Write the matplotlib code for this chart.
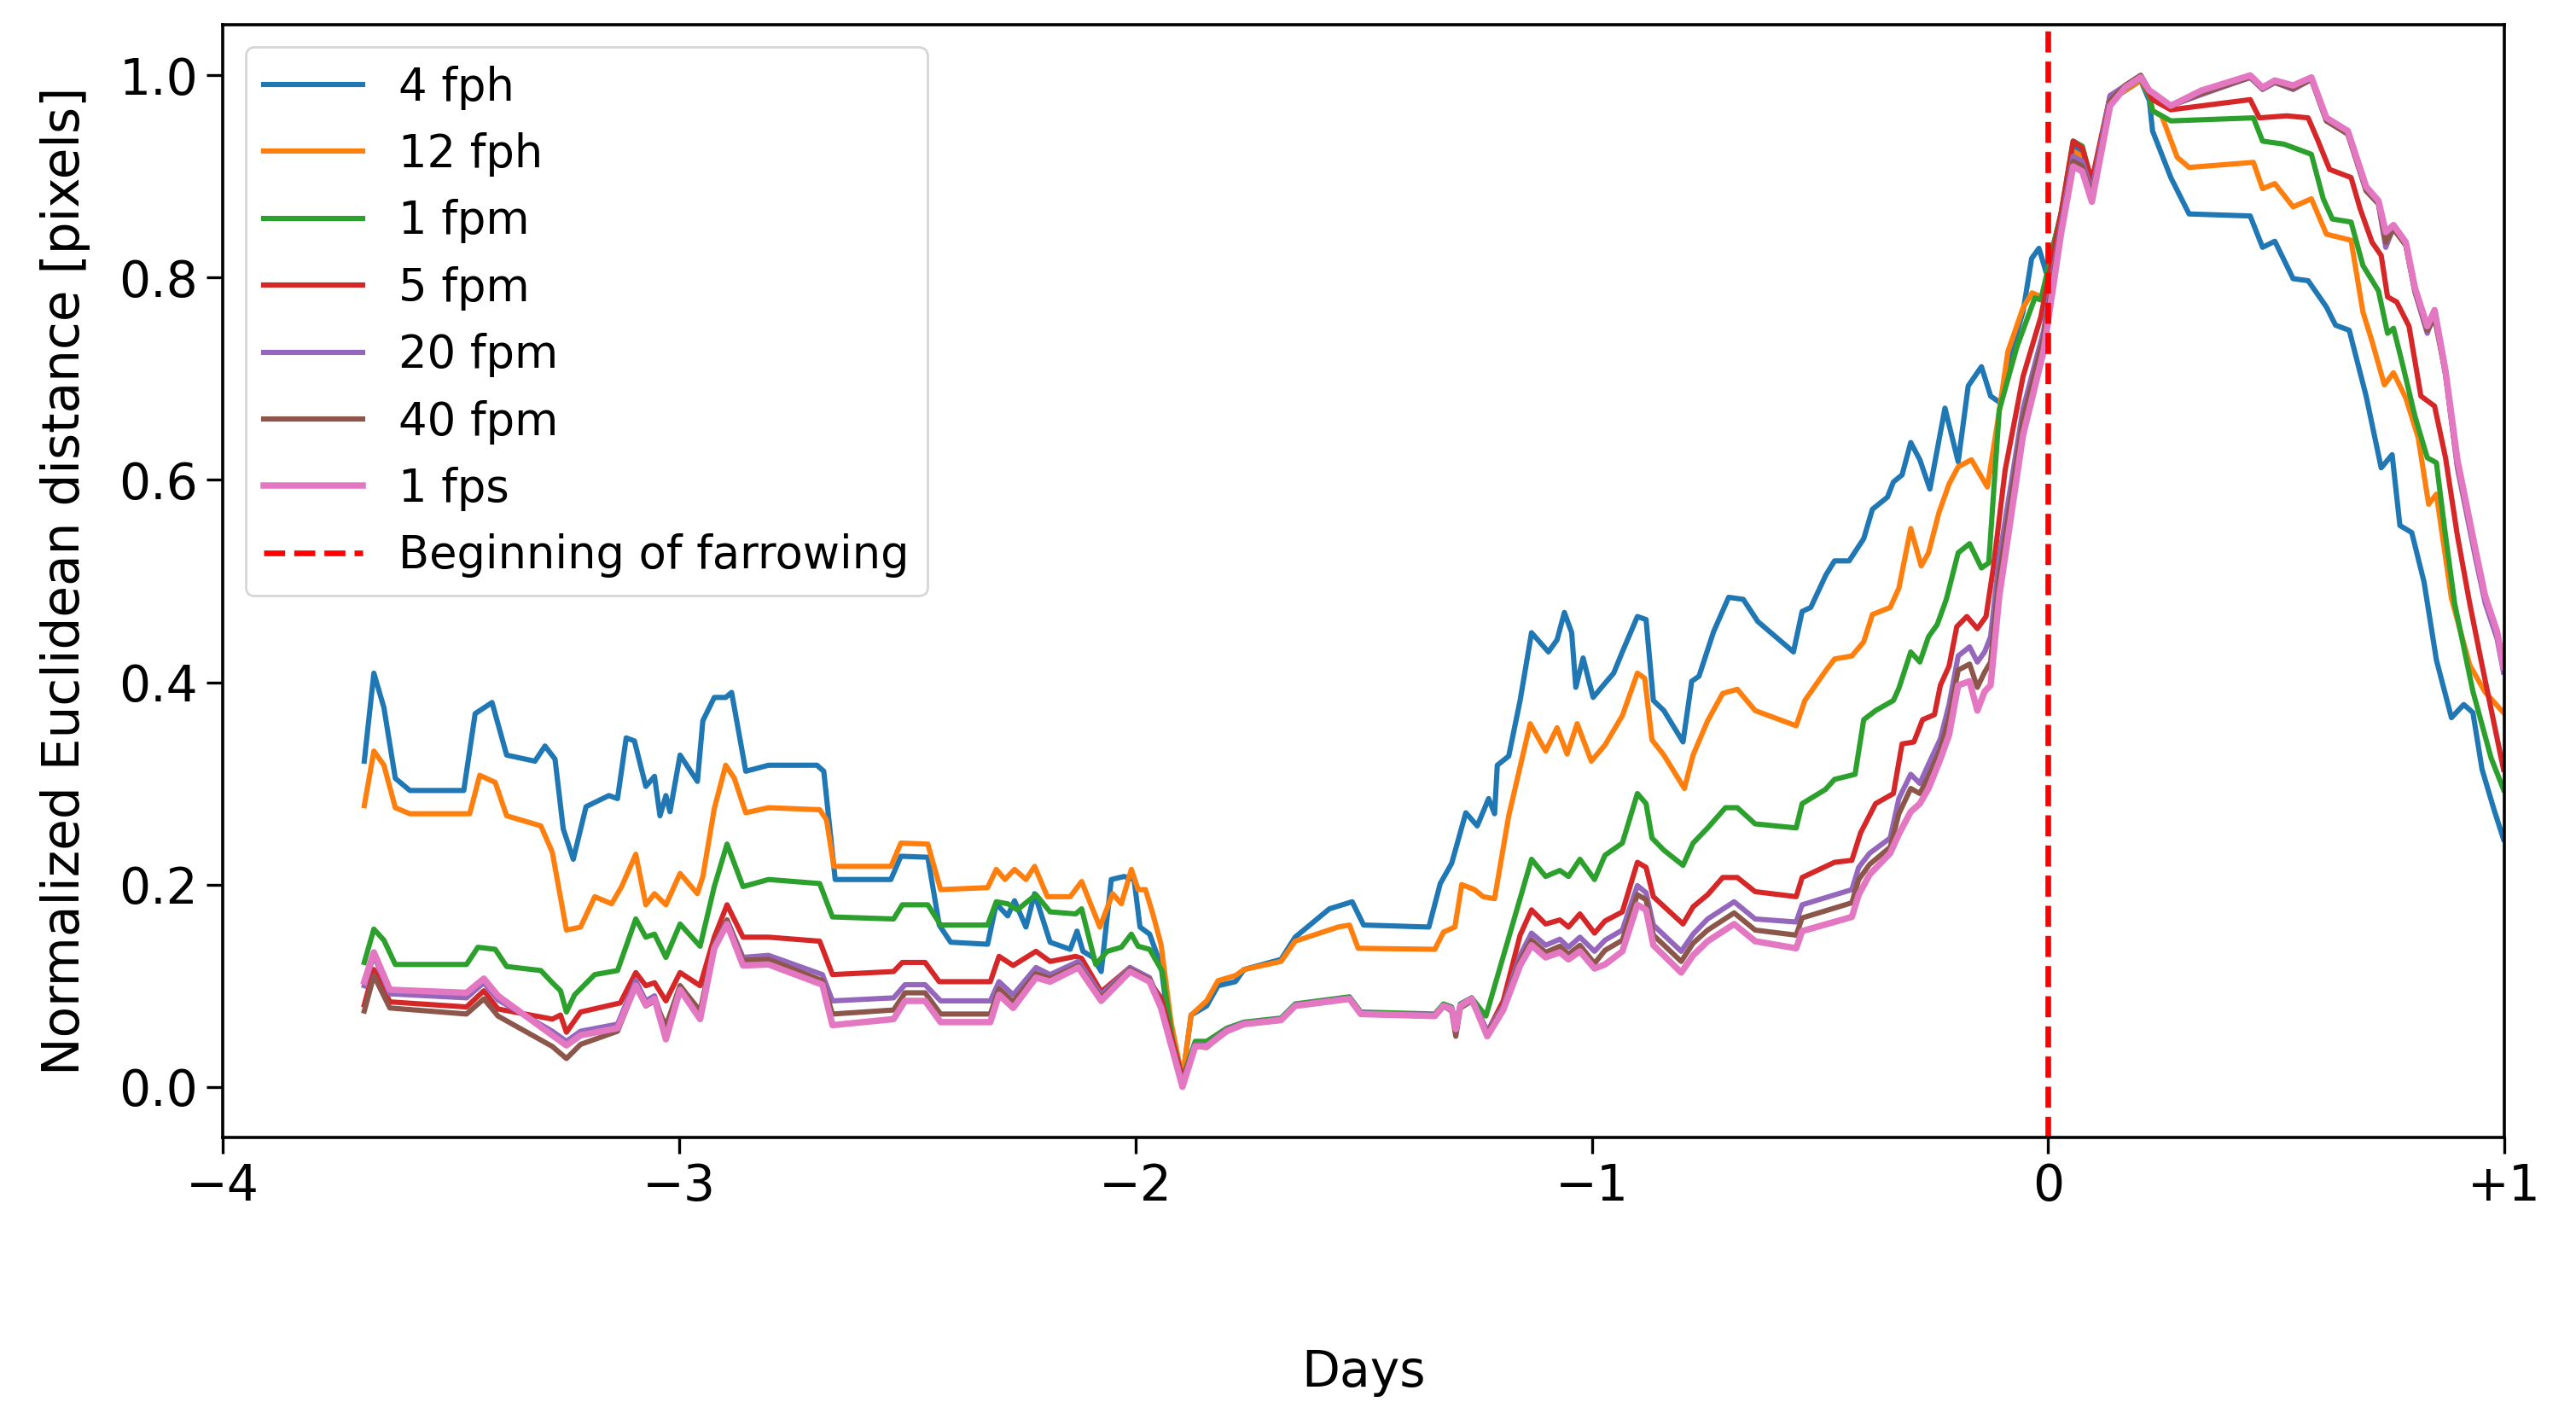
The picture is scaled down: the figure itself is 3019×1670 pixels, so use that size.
import matplotlib
matplotlib.use("Agg")
import matplotlib.pyplot as plt

# Values (days relative to farrowing, normalized distance)
labels = ["4 fph", "12 fph", "1 fpm", "5 fpm", "20 fpm", "40 fpm", "1 fps"]

fph4_x = [-3.69, -3.669, -3.647, -3.622, -3.59, -3.472, -3.447, -3.41, -3.378, -3.316, -3.294, -3.272,
          -3.254, -3.232, -3.204, -3.154, -3.135, -3.116, -3.098, -3.073, -3.054, -3.042, -3.029, -3.02,
          -2.998, -2.96, -2.948, -2.923, -2.898, -2.885, -2.854, -2.804, -2.698, -2.683, -2.658, -2.536,
          -2.514, -2.455, -2.43, -2.405, -2.324, -2.305, -2.28, -2.265, -2.24, -2.221, -2.187, -2.143,
          -2.128, -2.115, -2.093, -2.075, -2.053, -2.025, -2.003, -1.99, -1.969, -1.944, -1.925, -1.897,
          -1.878, -1.844, -1.819, -1.781, -1.762, -1.681, -1.65, -1.575, -1.525, -1.5, -1.357, -1.332,
          -1.307, -1.276, -1.251, -1.226, -1.213, -1.207, -1.182, -1.157, -1.132, -1.095, -1.076, -1.06,
          -1.044, -1.035, -1.019, -0.997, -0.971, -0.952, -0.933, -0.9, -0.881, -0.865, -0.842, -0.8,
          -0.781, -0.765, -0.733, -0.7, -0.668, -0.636, -0.558, -0.539, -0.52, -0.487, -0.468, -0.436,
          -0.404, -0.385, -0.352, -0.339, -0.32, -0.301, -0.281, -0.259, -0.226, -0.197, -0.175, -0.146,
          -0.126, -0.104, -0.081, -0.055, -0.036, -0.02, -0.004, 0.029, 0.055, 0.075, 0.096, 0.136,
          0.169, 0.203, 0.222, 0.229, 0.269, 0.309, 0.443, 0.47, 0.497, 0.537, 0.57, 0.61, 0.63, 0.66,
          0.697, 0.73, 0.754, 0.771, 0.797, 0.824, 0.851, 0.884, 0.911, 0.931, 0.951, 0.978, 0.998]
fph4_y = [0.322, 0.409, 0.375, 0.305, 0.293, 0.293, 0.369, 0.38, 0.328, 0.322, 0.337, 0.324,
          0.255, 0.225, 0.277, 0.288, 0.285, 0.345, 0.342, 0.297, 0.307, 0.268, 0.288, 0.272,
          0.328, 0.302, 0.362, 0.385, 0.385, 0.39, 0.312, 0.318, 0.318, 0.312, 0.205, 0.205,
          0.228, 0.227, 0.16, 0.143, 0.141, 0.181, 0.169, 0.184, 0.158, 0.191, 0.143, 0.136,
          0.154, 0.134, 0.128, 0.114, 0.205, 0.208, 0.205, 0.158, 0.151, 0.12, 0.054, 0.008,
          0.071, 0.08, 0.1, 0.104, 0.116, 0.126, 0.148, 0.176, 0.183, 0.16, 0.158, 0.201,
          0.221, 0.271, 0.258, 0.285, 0.27, 0.318, 0.327, 0.382, 0.449, 0.43, 0.442, 0.469,
          0.449, 0.395, 0.424, 0.385, 0.399, 0.409, 0.43, 0.465, 0.462, 0.382, 0.372, 0.341,
          0.401, 0.406, 0.45, 0.484, 0.482, 0.46, 0.43, 0.47, 0.474, 0.506, 0.52, 0.52,
          0.542, 0.571, 0.583, 0.598, 0.605, 0.637, 0.62, 0.591, 0.671, 0.618, 0.693, 0.712,
          0.683, 0.676, 0.727, 0.766, 0.819, 0.829, 0.805, 0.863, 0.93, 0.925, 0.89, 0.975,
          0.985, 0.995, 0.975, 0.945, 0.899, 0.863, 0.861, 0.83, 0.836, 0.799, 0.797, 0.771, 0.753, 0.748,
          0.683, 0.612, 0.625, 0.555, 0.548, 0.499, 0.422, 0.365, 0.378, 0.37, 0.314, 0.273, 0.245]

fph12_x = [-3.69, -3.669, -3.647, -3.622, -3.59, -3.459, -3.437, -3.403, -3.378, -3.303, -3.278, -3.247,
           -3.216, -3.185, -3.148, -3.126, -3.095, -3.073, -3.054, -3.029, -2.998, -2.96, -2.948, -2.923,
           -2.898, -2.879, -2.854, -2.804, -2.692, -2.677, -2.661, -2.536, -2.514, -2.455, -2.427, -2.324,
           -2.305, -2.286, -2.265, -2.24, -2.221, -2.193, -2.143, -2.118, -2.078, -2.05, -2.031, -2.009,
           -1.994, -1.978, -1.962, -1.944, -1.922, -1.897, -1.878, -1.844, -1.819, -1.781, -1.762, -1.681,
           -1.65, -1.556, -1.531, -1.512, -1.344, -1.325, -1.3, -1.285, -1.257, -1.238, -1.213, -1.182,
           -1.135, -1.101, -1.076, -1.054, -1.032, -1.001, -0.971, -0.933, -0.9, -0.884, -0.868, -0.842,
           -0.797, -0.778, -0.746, -0.713, -0.681, -0.642, -0.552, -0.533, -0.488, -0.468, -0.43, -0.404,
           -0.385, -0.346, -0.327, -0.301, -0.278, -0.262, -0.239, -0.217, -0.197, -0.168, -0.133, -0.11,
           -0.088, -0.055, -0.035, -0.01, 0.029, 0.055, 0.075, 0.096, 0.136, 0.169, 0.203, 0.222, 0.229,
           0.249, 0.283, 0.309, 0.45, 0.47, 0.497, 0.537, 0.577, 0.61, 0.664, 0.69, 0.71, 0.737, 0.757,
           0.784, 0.811, 0.834, 0.851, 0.884, 0.924, 0.958, 0.998]
fph12_y = [0.278, 0.332, 0.318, 0.276, 0.27, 0.27, 0.308, 0.301, 0.268, 0.258, 0.232, 0.155,
           0.158, 0.188, 0.181, 0.198, 0.23, 0.18, 0.191, 0.18, 0.211, 0.191, 0.208, 0.275,
           0.318, 0.305, 0.271, 0.276, 0.274, 0.264, 0.218, 0.218, 0.241, 0.24, 0.195, 0.197,
           0.215, 0.205, 0.215, 0.205, 0.218, 0.188, 0.188, 0.203, 0.158, 0.191, 0.181, 0.215,
           0.195, 0.195, 0.171, 0.141, 0.064, 0.008, 0.071, 0.085, 0.105, 0.11, 0.116, 0.124,
           0.144, 0.158, 0.16, 0.137, 0.136, 0.153, 0.158, 0.2, 0.195, 0.188, 0.186, 0.268,
           0.359, 0.332, 0.355, 0.329, 0.359, 0.322, 0.338, 0.367, 0.409, 0.404, 0.343, 0.328,
           0.295, 0.328, 0.362, 0.389, 0.393, 0.372, 0.357, 0.382, 0.411, 0.423, 0.426, 0.44,
           0.467, 0.474, 0.493, 0.552, 0.515, 0.528, 0.568, 0.596, 0.613, 0.62, 0.593, 0.659,
           0.727, 0.77, 0.785, 0.78, 0.86, 0.925, 0.92, 0.89, 0.975, 0.985, 0.995, 0.98, 0.965,
           0.96, 0.919, 0.909, 0.914, 0.888, 0.893, 0.87, 0.878, 0.843, 0.837, 0.766, 0.737, 0.694, 0.706,
           0.681, 0.642, 0.576, 0.586, 0.483, 0.417, 0.39, 0.37]

fpm1_x = [-3.69, -3.669, -3.647, -3.622, -3.466, -3.441, -3.403, -3.378, -3.303, -3.278, -3.26, -3.247,
          -3.229, -3.185, -3.135, -3.095, -3.073, -3.054, -3.029, -2.998, -2.954, -2.923, -2.895, -2.86,
          -2.804, -2.692, -2.664, -2.53, -2.511, -2.455, -2.427, -2.324, -2.305, -2.28, -2.259, -2.218,
          -2.187, -2.131, -2.118, -2.087, -2.062, -2.031, -2.009, -1.994, -1.969, -1.941, -1.919, -1.897,
          -1.869, -1.844, -1.8, -1.762, -1.681, -1.65, -1.531, -1.506, -1.344, -1.325, -1.307, -1.298,
          -1.288, -1.263, -1.232, -1.132, -1.101, -1.07, -1.051, -1.026, -0.994, -0.971, -0.933, -0.9,
          -0.881, -0.868, -0.842, -0.8, -0.778, -0.746, -0.707, -0.681, -0.642, -0.552, -0.539, -0.488,
          -0.468, -0.423, -0.404, -0.378, -0.339, -0.327, -0.301, -0.281, -0.262, -0.243, -0.223, -0.197,
          -0.172, -0.146, -0.13, -0.107, -0.068, -0.029, -0.016, 0.029, 0.055, 0.075, 0.096, 0.136,
          0.169, 0.203, 0.222, 0.229, 0.269, 0.45, 0.47, 0.517, 0.577, 0.603, 0.623, 0.664, 0.69,
          0.724, 0.744, 0.757, 0.777, 0.804, 0.831, 0.851, 0.871, 0.891, 0.931, 0.971, 0.998]
fpm1_y = [0.123, 0.156, 0.145, 0.121, 0.121, 0.138, 0.136, 0.119, 0.115, 0.103, 0.095, 0.074,
          0.091, 0.111, 0.115, 0.166, 0.148, 0.151, 0.128, 0.161, 0.139, 0.198, 0.24, 0.198,
          0.205, 0.201, 0.168, 0.166, 0.18, 0.18, 0.16, 0.16, 0.183, 0.181, 0.175, 0.19,
          0.173, 0.171, 0.176, 0.121, 0.134, 0.138, 0.151, 0.139, 0.136, 0.114, 0.047, 0.008,
          0.045, 0.045, 0.058, 0.064, 0.068, 0.082, 0.089, 0.074, 0.072, 0.082, 0.079, 0.06,
          0.082, 0.088, 0.07, 0.225, 0.208, 0.214, 0.208, 0.225, 0.205, 0.229, 0.241, 0.29,
          0.28, 0.246, 0.234, 0.219, 0.241, 0.256, 0.276, 0.276, 0.26, 0.256, 0.28, 0.294,
          0.304, 0.309, 0.363, 0.372, 0.382, 0.394, 0.43, 0.42, 0.445, 0.457, 0.482, 0.528,
          0.537, 0.513, 0.518, 0.669, 0.732, 0.78, 0.778, 0.865, 0.935, 0.93, 0.893, 0.978,
          0.987, 0.997, 0.98, 0.965, 0.955, 0.958, 0.935, 0.932, 0.922, 0.878, 0.858, 0.855, 0.812,
          0.787, 0.745, 0.75, 0.714, 0.663, 0.622, 0.617, 0.545, 0.478, 0.391, 0.325, 0.294]

fpm5_x = [-3.69, -3.669, -3.634, -3.466, -3.428, -3.397, -3.278, -3.26, -3.247, -3.216, -3.129, -3.095,
          -3.073, -3.054, -3.029, -2.998, -2.954, -2.923, -2.895, -2.86, -2.804, -2.692, -2.664, -2.53,
          -2.511, -2.461, -2.43, -2.318, -2.299, -2.268, -2.218, -2.187, -2.131, -2.118, -2.075, -2.012,
          -1.969, -1.944, -1.897, -1.869, -1.844, -1.8, -1.762, -1.681, -1.65, -1.531, -1.506, -1.344,
          -1.325, -1.307, -1.298, -1.288, -1.263, -1.229, -1.194, -1.157, -1.132, -1.101, -1.07, -1.051,
          -1.026, -0.994, -0.971, -0.933, -0.9, -0.881, -0.865, -0.8, -0.778, -0.746, -0.713, -0.681,
          -0.642, -0.552, -0.539, -0.468, -0.43, -0.411, -0.378, -0.339, -0.32, -0.294, -0.275, -0.249,
          -0.236, -0.217, -0.2, -0.178, -0.155, -0.136, -0.12, -0.094, -0.055, -0.016, 0.029, 0.055,
          0.075, 0.096, 0.136, 0.169, 0.203, 0.222, 0.229, 0.269, 0.443, 0.463, 0.523, 0.57, 0.59,
          0.617, 0.664, 0.684, 0.71, 0.73, 0.744, 0.764, 0.791, 0.817, 0.847, 0.871, 0.897, 0.924,
          0.951, 0.998]
fpm5_y = [0.081, 0.116, 0.084, 0.079, 0.095, 0.077, 0.067, 0.071, 0.054, 0.074, 0.083, 0.113,
          0.1, 0.103, 0.085, 0.113, 0.1, 0.148, 0.18, 0.148, 0.148, 0.144, 0.111, 0.114,
          0.123, 0.123, 0.104, 0.104, 0.129, 0.12, 0.134, 0.124, 0.129, 0.127, 0.094, 0.118,
          0.104, 0.088, 0.008, 0.04, 0.039, 0.056, 0.062, 0.066, 0.08, 0.087, 0.072, 0.07,
          0.08, 0.077, 0.057, 0.08, 0.087, 0.054, 0.085, 0.15, 0.175, 0.161, 0.165, 0.158,
          0.171, 0.152, 0.164, 0.173, 0.222, 0.217, 0.188, 0.161, 0.178, 0.19, 0.207, 0.207,
          0.193, 0.188, 0.207, 0.222, 0.224, 0.251, 0.28, 0.29, 0.339, 0.341, 0.363, 0.368,
          0.397, 0.416, 0.455, 0.465, 0.453, 0.465, 0.513, 0.61, 0.702, 0.761, 0.865, 0.935,
          0.928, 0.896, 0.98, 0.988, 0.998, 0.982, 0.976, 0.966, 0.976, 0.958, 0.96, 0.958, 0.937,
          0.907, 0.899, 0.868, 0.835, 0.822, 0.781, 0.776, 0.752, 0.683, 0.673, 0.622, 0.545, 0.478,
          0.417, 0.314]

# the three fastest rates share the same knots
fast_x = [-3.69, -3.669, -3.634, -3.466, -3.428, -3.397, -3.278, -3.247, -3.216, -3.135, -3.095, -3.073,
          -3.054, -3.029, -2.998, -2.954, -2.923, -2.895, -2.86, -2.804, -2.686, -2.664, -2.53, -2.505,
          -2.461, -2.427, -2.318, -2.299, -2.268, -2.218, -2.187, -2.125, -2.075, -2.012, -1.969, -1.944,
          -1.897, -1.869, -1.844, -1.8, -1.762, -1.681, -1.65, -1.531, -1.506, -1.344, -1.325, -1.307,
          -1.298, -1.288, -1.263, -1.229, -1.194, -1.157, -1.132, -1.101, -1.07, -1.051, -1.026, -0.994,
          -0.971, -0.933, -0.9, -0.881, -0.865, -0.804, -0.778, -0.746, -0.688, -0.642, -0.552, -0.539,
          -0.43, -0.415, -0.391, -0.346, -0.327, -0.301, -0.281, -0.262, -0.236, -0.217, -0.197, -0.172,
          -0.155, -0.139, -0.126, -0.107, -0.055, -0.01, 0.029, 0.055, 0.075, 0.096, 0.136, 0.169,
          0.203, 0.222, 0.229, 0.269, 0.336, 0.443, 0.47, 0.497, 0.537, 0.577, 0.61, 0.657, 0.697,
          0.724, 0.74, 0.757, 0.784, 0.804, 0.831, 0.847, 0.871, 0.897, 0.938, 0.958, 0.984, 0.998]
fpm20_y = [0.1, 0.13, 0.092, 0.088, 0.103, 0.086, 0.055, 0.045, 0.055, 0.062, 0.105, 0.085,
           0.09, 0.055, 0.1, 0.072, 0.14, 0.165, 0.128, 0.13, 0.111, 0.085, 0.088, 0.101,
           0.101, 0.085, 0.085, 0.104, 0.091, 0.118, 0.111, 0.124, 0.091, 0.118, 0.108, 0.081,
           0.004, 0.042, 0.041, 0.057, 0.063, 0.067, 0.081, 0.088, 0.073, 0.071, 0.081, 0.078,
           0.058, 0.081, 0.088, 0.055, 0.08, 0.13, 0.152, 0.14, 0.146, 0.138, 0.148, 0.134,
           0.145, 0.155, 0.199, 0.192, 0.16, 0.134, 0.151, 0.166, 0.183, 0.166, 0.163, 0.18,
           0.195, 0.217, 0.231, 0.246, 0.285, 0.309, 0.3, 0.319, 0.344, 0.378, 0.426, 0.435,
           0.42, 0.43, 0.445, 0.523, 0.67, 0.747, 0.855, 0.92, 0.915, 0.885, 0.98, 0.99,
           1.0, 0.985, 0.983, 0.97, 0.981, 0.998, 0.986, 0.993, 0.986, 0.996, 0.955, 0.942, 0.886,
           0.873, 0.83, 0.85, 0.832, 0.786, 0.745, 0.765, 0.704, 0.612, 0.52, 0.478, 0.443, 0.41]
fpm40_y = [0.075, 0.11, 0.078, 0.072, 0.087, 0.07, 0.04, 0.028, 0.042, 0.055, 0.1, 0.08,
           0.085, 0.06, 0.1, 0.075, 0.14, 0.165, 0.125, 0.126, 0.105, 0.072, 0.076, 0.093,
           0.093, 0.072, 0.072, 0.097, 0.084, 0.112, 0.107, 0.12, 0.088, 0.116, 0.106, 0.08,
           0.002, 0.041, 0.04, 0.056, 0.062, 0.066, 0.08, 0.087, 0.072, 0.07, 0.08, 0.075,
           0.05, 0.078, 0.085, 0.053, 0.078, 0.125, 0.145, 0.133, 0.139, 0.131, 0.14, 0.122,
           0.135, 0.145, 0.19, 0.185, 0.15, 0.124, 0.142, 0.155, 0.172, 0.155, 0.15, 0.167,
           0.182, 0.205, 0.22, 0.237, 0.27, 0.295, 0.29, 0.307, 0.334, 0.365, 0.412, 0.418,
           0.395, 0.41, 0.42, 0.505, 0.66, 0.74, 0.85, 0.915, 0.91, 0.88, 0.975, 0.99,
           1.0, 0.985, 0.983, 0.97, 0.982, 0.998, 0.987, 0.993, 0.987, 0.996, 0.955, 0.942, 0.886,
           0.873, 0.835, 0.848, 0.832, 0.786, 0.748, 0.76, 0.705, 0.615, 0.525, 0.485, 0.45, 0.42]
fps1_y = [0.104, 0.133, 0.096, 0.093, 0.107, 0.09, 0.051, 0.041, 0.051, 0.058, 0.1, 0.081,
          0.087, 0.047, 0.096, 0.067, 0.137, 0.161, 0.12, 0.121, 0.101, 0.061, 0.067, 0.085,
          0.085, 0.064, 0.064, 0.091, 0.078, 0.108, 0.104, 0.118, 0.085, 0.114, 0.104, 0.078,
          0.0, 0.04, 0.04, 0.055, 0.062, 0.066, 0.08, 0.087, 0.072, 0.07, 0.08, 0.077,
          0.057, 0.08, 0.087, 0.05, 0.076, 0.12, 0.14, 0.128, 0.133, 0.126, 0.134, 0.117,
          0.121, 0.134, 0.18, 0.175, 0.14, 0.113, 0.13, 0.144, 0.161, 0.144, 0.137, 0.154,
          0.168, 0.19, 0.21, 0.231, 0.25, 0.272, 0.28, 0.295, 0.324, 0.348, 0.397, 0.401,
          0.372, 0.391, 0.397, 0.485, 0.644, 0.727, 0.845, 0.91, 0.905, 0.875, 0.97, 0.988,
          0.998, 0.985, 0.983, 0.97, 0.985, 1.0, 0.988, 0.995, 0.99, 0.998, 0.958, 0.945, 0.89,
          0.876, 0.845, 0.852, 0.835, 0.79, 0.752, 0.768, 0.708, 0.62, 0.528, 0.485, 0.45, 0.415]

series = [(fph4_x, fph4_y), (fph12_x, fph12_y), (fpm1_x, fpm1_y), (fpm5_x, fpm5_y),
          (fast_x, fpm20_y), (fast_x, fpm40_y), (fast_x, fps1_y)]
colors = ["#1f77b4", "#ff7f0e", "#2ca02c", "#d62728", "#9467bd", "#8c564b", "#e377c2"]

xticks = [-4, -3, -2, -1, 0, 1]
xtick_labels = ["\u22124", "\u22123", "\u22122", "\u22121", "0", "+1"]
yticks = [0.0, 0.2, 0.4, 0.6, 0.8, 1.0]

fig = plt.figure(figsize=(15.095, 8.35), dpi=200)
ax = fig.add_axes([0.0865, 0.2018, 0.8857, 0.7808])

for (xs, ys), lab, col in zip(series, labels, colors):
    lw = 2.7 if lab == "1 fps" else 2.2
    ax.plot(xs, ys, color=col, lw=lw, label=lab)

ax.axvline(0, color="red", ls="--", lw=2.4, label="Beginning of farrowing")

ax.set_xlim(-4, 1)
ax.set_ylim(-0.05, 1.05)
ax.set_xticks(xticks)
ax.set_xticklabels(xtick_labels)
ax.set_yticks(yticks)
ax.set_yticklabels([f"{v:.1f}" for v in yticks])
ax.tick_params(labelsize=21, length=7, width=1.2)
for sp in ax.spines.values():
    sp.set_linewidth(1.3)

ax.set_xlabel("Days", fontsize=21, labelpad=58)
ax.set_ylabel("Normalized Euclidean distance [pixels]", fontsize=21.5, labelpad=12)
ax.legend(loc="upper left", fontsize=19, handlelength=2.2)

fig.savefig("out.png", dpi=200)
